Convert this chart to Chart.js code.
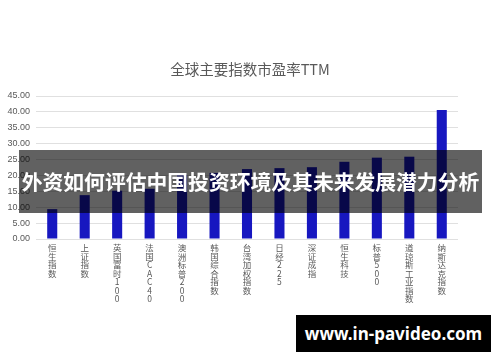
<!DOCTYPE html>
<html>
<head>
<meta charset="utf-8">
<script src="https://cdn.jsdelivr.net/npm/chart.js@4/dist/chart.umd.min.js"></script>
<style>
  html, body { margin: 0; padding: 0; background: #ffffff; }
  #wrap { position: relative; width: 500px; height: 362px; overflow: hidden; }
  canvas { display: block; }
  #banner {
    position: absolute; left: 19px; top: 150px; width: 463px; height: 63px;
    background: rgba(0,0,0,0.62); color: #ffffff;
    font-family: "Noto Sans CJK SC", sans-serif; font-weight: bold; font-size: 20.8px;
    line-height: 63px; text-align: center; white-space: nowrap; letter-spacing: 0;
  }
  #mark {
    position: absolute; left: 296px; top: 315px; width: 195px; height: 37px;
    background: #000000; color: #ffffff;
    font-family: "Noto Sans", "Open Sans", sans-serif; font-weight: bold; font-size: 17px;
    line-height: 37px; text-align: center; white-space: nowrap;
  }
</style>
</head>
<body>
<div id="wrap">
  <canvas id="c" width="500" height="362"></canvas>
  <div id="banner">外资如何评估中国投资环境及其未来发展潜力分析</div>
  <div id="mark">www.in-pavideo.com</div>
</div>
<script>
const categories = ["恒生指数", "上证指数", "英国富时100", "法国CAC40", "澳洲标普200", "韩国综合指数", "台湾加权指数", "日经225", "深证成指", "恒生科技", "标普500", "道琼斯工业指数", "纳斯达克指数"];
const peValues = [9.4, 13.8, 15.2, 15.8, 20.2, 20.8, 22.0, 22.3, 22.6, 24.3, 25.6, 25.9, 40.6];
const chartTitle = "全球主要指数市盈率TTM";
const yMin = 0, yMax = 45, yStep = 5;

const verticalLabels = categories.map(s => Array.from(s));

new Chart(document.getElementById('c'), {
  type: 'bar',
  data: {
    labels: verticalLabels,
    datasets: [{
      data: peValues,
      backgroundColor: '#1717c0',
      borderWidth: 0,
      categoryPercentage: 1.0,
      barPercentage: 0.31
    }]
  },
  options: {
    responsive: false,
    animation: false,
    layout: { padding: { top: 61, right: 0, left: 0, bottom: 0 } },
    plugins: {
      legend: { display: false },
      tooltip: { enabled: false },
      title: {
        display: true,
        text: chartTitle,
        color: '#595959',
        font: { family: '"Noto Sans CJK SC", sans-serif', size: 14.5, weight: 'normal', lineHeight: 1.2 },
        padding: { top: 0, bottom: 17.6 }
      }
    },
    scales: {
      x: {
        grid: { display: false, drawTicks: false },
        border: { display: false },
        ticks: {
          autoSkip: false, maxRotation: 0, minRotation: 0, padding: 5,
          color: '#595959',
          font: { family: '"Noto Sans CJK SC", sans-serif', size: 8.5, lineHeight: 1.0 }
        },
        afterFit: s => { s.height = 123; }
      },
      y: {
        min: yMin, max: yMax,
        grid: { color: '#e0e0e0', lineWidth: 1, drawTicks: false },
        border: { display: false },
        ticks: {
          stepSize: yStep, padding: 6, color: '#595959',
          font: { family: '"Liberation Sans", sans-serif', size: 9 },
          callback: v => Number(v).toFixed(2)
        },
        afterFit: s => { s.width = 36; }
      },
      yRight: {
        position: 'right',
        min: yMin, max: yMax,
        grid: { display: false, drawTicks: false },
        border: { display: false },
        ticks: { display: false },
        afterFit: s => { s.width = 42; }
      }
    }
  }
});
</script>
</body>
</html>
